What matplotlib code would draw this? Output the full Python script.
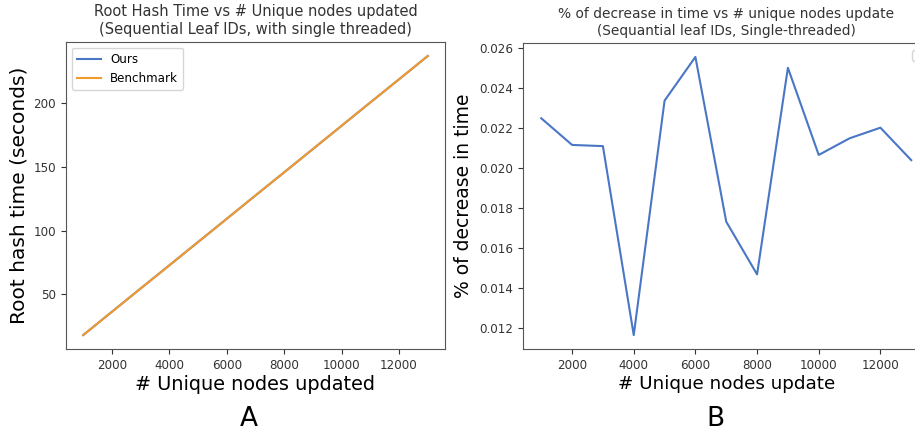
import numpy as np
import matplotlib
matplotlib.use("Agg")
import matplotlib.pyplot as plt

# data
nodes = [1000, 2000, 3000, 4000, 5000, 6000, 7000, 8000, 9000, 10000, 11000, 12000, 13000]
bench_time = [18.3, 36.5, 54.7, 72.8, 91.0, 109.2, 127.4, 145.5, 163.7, 181.9, 200.1, 218.2, 236.4]
ours_time = [18.296, 36.492, 54.688, 72.792, 90.979, 109.172, 127.378, 145.479, 163.659, 181.862, 200.057, 218.152, 236.352]
pct_decrease = [0.02249, 0.02116, 0.02110, 0.01167, 0.02337, 0.02555, 0.01733,
                0.01470, 0.02501, 0.02066, 0.02149, 0.02202, 0.02040]

blue = '#4a76c6'
orange = '#f29a2e'
tick_fs = 8.6

fig = plt.figure(figsize=(9.15, 4.36), dpi=100)

# A
ax1 = fig.add_axes([0.0721, 0.1995, 0.4142, 0.7041])
ax1.plot(nodes, ours_time, color=blue, linewidth=1.5, label='Ours')
ax1.plot(nodes, bench_time, color=orange, linewidth=1.5, label='Benchmark')
ax1.set_title('Root Hash Time vs # Unique nodes updated\n(Sequential Leaf IDs, with single threaded)',
              fontsize=10.5, color='#333333')
ax1.set_xlabel('# Unique nodes updated', fontsize=13.9, labelpad=2)
ax1.set_ylabel('Root hash time (seconds)', fontsize=14.5)
ax1.set_yticks([50, 100, 150, 200])
ax1.tick_params(labelsize=tick_fs, colors='#333333')
ax1.legend(loc='upper left', fontsize=tick_fs)

# B
ax2 = fig.add_axes([0.5713, 0.1995, 0.4448, 0.7018])
ax2.plot(nodes, pct_decrease, color=blue, linewidth=1.5)
ax2.set_title('% of decrease in time vs # unique nodes update\n(Sequantial leaf IDs, Single-threaded)',
              fontsize=9.9, color='#333333')
ax2.set_xlabel('# Unique nodes update', fontsize=13.2, labelpad=2)
ax2.set_ylabel('% of decrease in time', fontsize=13.5)
ax2.set_xticks([2000, 4000, 6000, 8000, 10000, 12000])
ax2.tick_params(labelsize=tick_fs, colors='#333333')
ax2.legend(loc='upper right')

for ax in (ax1, ax2):
    for s in ax.spines.values():
        s.set_color('#555555')

fig.text(0.272, 0.022, 'A', fontsize=19, ha='center')
fig.text(0.782, 0.022, 'B', fontsize=19, ha='center')

fig.savefig('out.png', dpi=100)
